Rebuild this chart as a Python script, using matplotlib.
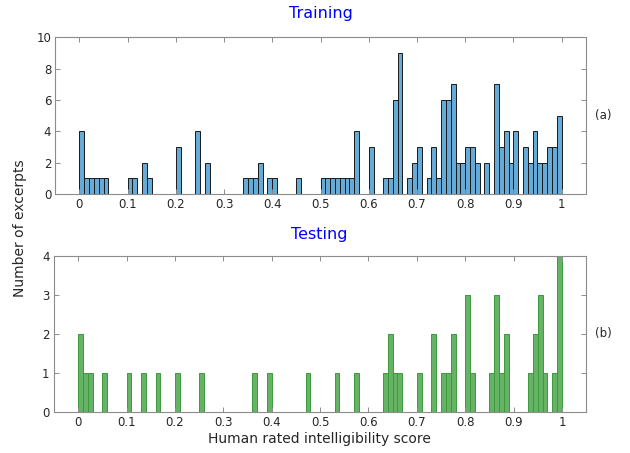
import matplotlib
matplotlib.use("Agg")
import matplotlib.pyplot as plt
import numpy as np

plt.rcParams['font.family'] = ['DejaVu Sans']

bin_edges = [i / 100 for i in range(101)]

train_counts = [4, 1, 1, 1, 1, 1, 0, 0, 0, 0,
                1, 1, 0, 2, 1, 0, 0, 0, 0, 0,
                3, 0, 0, 0, 4, 0, 2, 0, 0, 0,
                0, 0, 0, 0, 1, 1, 1, 2, 0, 1,
                1, 0, 0, 0, 0, 1, 0, 0, 0, 0,
                1, 1, 1, 1, 1, 1, 1, 4, 0, 0,
                3, 0, 0, 1, 1, 6, 9, 0, 1, 2,
                3, 0, 1, 3, 1, 6, 6, 7, 2, 2,
                3, 3, 2, 0, 2, 0, 7, 3, 4, 2,
                4, 0, 3, 2, 4, 2, 2, 3, 3, 5]

test_counts = [2, 1, 1, 0, 0, 1, 0, 0, 0, 0,
               1, 0, 0, 1, 0, 0, 1, 0, 0, 0,
               1, 0, 0, 0, 0, 1, 0, 0, 0, 0,
               0, 0, 0, 0, 0, 0, 1, 0, 0, 1,
               0, 0, 0, 0, 0, 0, 0, 1, 0, 0,
               0, 0, 0, 1, 0, 0, 0, 1, 0, 0,
               0, 0, 0, 1, 2, 1, 1, 0, 0, 0,
               1, 0, 0, 2, 0, 1, 1, 2, 0, 0,
               3, 1, 0, 0, 0, 1, 3, 1, 2, 0,
               0, 0, 0, 1, 2, 3, 1, 0, 1, 4]

x_ticks = [0, 0.1, 0.2, 0.3, 0.4, 0.5, 0.6, 0.7, 0.8, 0.9, 1]
x_tick_labels = ['0', '0.1', '0.2', '0.3', '0.4', '0.5', '0.6', '0.7', '0.8', '0.9', '1']
train_yticks = [0, 2, 4, 6, 8, 10]
test_yticks = [0, 1, 2, 3, 4]

W, H = 630, 453
fig = plt.figure(figsize=(W / 100, H / 100), dpi=100)

def px_axes(l, t, r, b):
    return fig.add_axes([l / W, 1 - b / H, (r - l) / W, (b - t) / H])

ax1 = px_axes(55.3, 37.3, 585.7, 194.0)
ax2 = px_axes(53.7, 256.0, 585.7, 412.3)

lefts = bin_edges[:-1]
ax1.bar(lefts, train_counts, width=0.01, align='edge',
        color='#66aad7', edgecolor='#1a1a1a', linewidth=0.7)
ax2.bar(lefts, test_counts, width=0.01, align='edge',
        color='#66b366', edgecolor='#3c9a3c', linewidth=0.7)

spine_col = '#8c8c8c'
for ax, yt, ylim in ((ax1, train_yticks, (0, 10)), (ax2, test_yticks, (0, 4))):
    ax.set_ylim(*ylim)
    ax.set_xticks(x_ticks)
    ax.set_xticklabels(x_tick_labels)
    ax.set_yticks(yt)
    ax.tick_params(direction='in', length=3.5, width=0.7, color=spine_col,
                   labelcolor='#262626', labelsize=8.5, top=True, right=True,
                   pad=3)
    for s in ax.spines.values():
        s.set_color(spine_col)
        s.set_linewidth(0.8)

ax1.set_xlim(-0.05, 1.05)
ax2.set_xlim(-0.0506, 1.049)

ax1.set_title('Training', color='#0000ff', fontsize=11.5, pad=14)
ax2.set_title('Testing', color='#0000ff', fontsize=11.5, pad=12.5)

ax2.set_xlabel('Human rated intelligibility score', fontsize=10, color='#262626', labelpad=2)
fig.text(20 / W, 225 / H, 'Number of excerpts', rotation=90, ha='center', va='center',
         fontsize=10, color='#262626')

fig.text(603 / W, 1 - 115 / H, '(a)', ha='center', va='center', fontsize=8.5, color='#262626')
fig.text(603 / W, 1 - 333 / H, '(b)', ha='center', va='center', fontsize=8.5, color='#262626')

fig.savefig('out.png', dpi=100)
